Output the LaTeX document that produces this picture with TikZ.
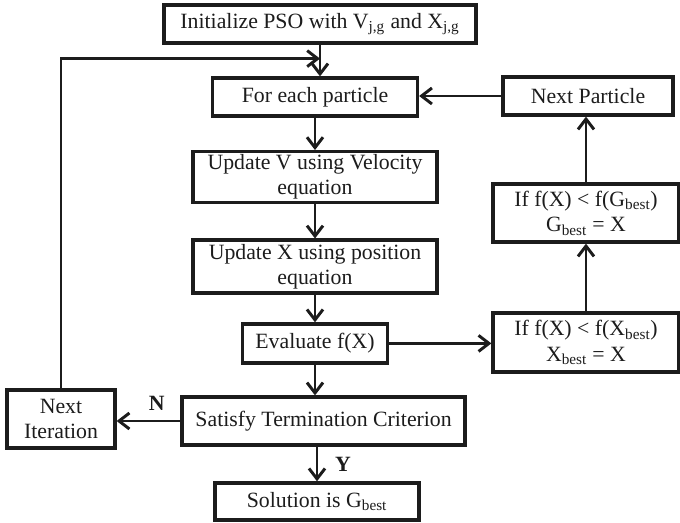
\documentclass[tikz,border=0pt]{standalone}
\usepackage{fontspec}
\setmainfont{Liberation Serif}
\usepackage{tikz}
\usetikzlibrary{arrows.meta,positioning,calc}
\definecolor{ink}{RGB}{28,28,28}

\begin{document}
\begin{tikzpicture}[x=1cm,y=1cm,font=\fontsize{15.5}{18}\selectfont,
    box/.style={draw=ink,line width=2.3pt,align=center,text=ink,inner sep=2pt},
    flow/.style={draw=ink,line width=2.1pt,-{Straight Barb[length=2.6mm,width=4mm,line width=2.1pt]}},
    lbl/.style={font=\fontsize{15.5}{18}\selectfont\bfseries,text=ink}]
  \useasboundingbox (0,0) rectangle (17,13.075);
  % ---- main column ----
  \node[box,minimum width=7.8cm,minimum height=0.95cm] (init) at (8.0,12.475)
      {Initialize PSO with V\textsubscript{j,g} and X\textsubscript{j,g}};
  \node[box,minimum width=5.125cm,minimum height=0.95cm] (foreach) at (7.875,10.65) {For each particle};
  \node[box,minimum width=6.1cm,minimum height=1.25cm] (updv) at (7.875,8.65)
      {Update V using Velocity\\equation};
  \node[box,minimum width=6.1cm,minimum height=1.325cm] (updx) at (7.875,6.41)
      {Update X using position\\equation};
  \node[box,minimum width=3.625cm,minimum height=0.975cm] (eval) at (7.875,4.49) {Evaluate f(X)};
  \node[box,minimum width=7.075cm,minimum height=1.2cm] (satisfy) at (8.09,2.55) {Satisfy Termination Criterion};
  \node[box,minimum width=5.1cm,minimum height=0.925cm] (solution) at (7.925,0.54) {Solution is G\textsubscript{best}};
  % ---- right column ----
  \node[box,minimum width=4.25cm,minimum height=0.95cm] (nextp) at (14.7,10.675) {Next Particle};
  \node[box,minimum width=4.65cm,minimum height=1.45cm] (gbest) at (14.65,7.75)
      {If f(X) < f(G\textsubscript{best})\\G\textsubscript{best} = X};
  \node[box,minimum width=4.65cm,minimum height=1.475cm] (xbest) at (14.65,4.51)
      {If f(X) < f(X\textsubscript{best})\\X\textsubscript{best} = X};
  % ---- left ----
  \node[box,minimum width=2.7cm,minimum height=1.45cm] (nextit) at (1.525,2.6) {Next\\Iteration};
  % ---- connectors ----
  \path (init.south) ++(0,-0.35) coordinate (merge);
  \draw[flow] (init.south) -- (init.south |- foreach.north);
  \draw[flow] (nextit.north) |- (merge);
  \draw[flow] (foreach) -- (updv);
  \draw[flow] (updv) -- (updx);
  \draw[flow] (updx) -- (eval);
  \draw[flow] (eval.south) -- (eval.south |- satisfy.north);
  \draw[flow] (solution.north |- satisfy.south) -- (solution.north)
      node[lbl,midway,right=0.3cm] {Y};
  \draw[flow] (satisfy.west) -- (satisfy.west -| nextit.east)
      node[lbl,pos=0.37,above=3pt] {N};
  \draw[flow] (eval.east) -- (eval.east -| xbest.west);
  \draw[flow] (xbest.north) -- (gbest.south);
  \draw[flow] (gbest.north) -- (gbest.north |- nextp.south);
  \draw[flow] (nextp.west) -- (nextp.west -| foreach.east);
\end{tikzpicture}
\end{document}
